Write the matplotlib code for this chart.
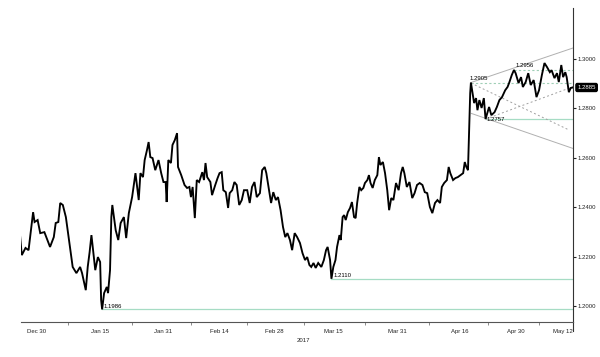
import matplotlib
matplotlib.use("Agg")
import matplotlib.pyplot as plt
import matplotlib.transforms as mtransforms
from matplotlib.lines import Line2D

plt.rcParams['font.family'] = ['Liberation Sans', 'DejaVu Sans']

# ---- data: days since 2016-12-30, GBP/USD price ----
days = [-4.29, -3.8, -2.86, -2.09, -0.94, -0.57, 0.2, 0.86, 1.91, 3.34, 4.29, 4.77, 5.43, 5.91, 6.57, 7.34,
        8.37, 9.06, 10.0, 10.94, 11.43, 12.37, 12.86, 13.34, 13.8, 14.29, 14.77, 15.43, 16.0, 16.25, 16.5,
        17.0, 17.68, 18.0, 18.5, 18.83, 19.08, 19.5, 19.93, 20.58, 21.18, 22.0, 22.58, 23.25, 24.08, 24.93,
        25.75, 26.18, 26.83, 27.25, 27.83, 28.25, 28.68, 29.25, 29.93, 30.75, 31.43, 32.0, 32.56, 32.81,
        33.23, 33.89, 34.28, 34.87, 35.44, 35.68, 36.49, 37.33, 37.97, 38.56, 38.95, 39.37, 39.93, 40.42,
        41.01, 41.82, 42.24, 42.63, 43.05, 43.86, 44.28, 45.09, 45.68, 46.17, 46.72, 47.13, 47.76, 48.34,
        48.73, 49.38, 49.93, 50.51, 51.14, 51.79, 52.35, 53.17, 53.8, 54.38, 55.0, 55.58, 56.38, 56.94,
        57.59, 58.0, 58.55, 59.2, 59.76, 60.4, 60.95, 61.6, 62.21, 62.78, 63.33, 63.97, 64.52, 65.16, 65.78,
        66.5, 67.14, 67.78, 68.33, 68.88, 69.35, 69.92, 70.47, 71.11, 71.9, 72.54, 73.09, 73.49, 74.11,
        74.45, 74.93, 75.47, 75.87, 76.48, 76.81, 77.28, 77.66, 78.06, 78.6, 79.16, 79.63, 80.17, 80.57,
        80.95, 81.51, 81.98, 82.52, 82.92, 83.53, 83.93, 84.33, 84.87, 85.41, 86.05, 86.45, 86.82, 87.46,
        88.0, 88.56, 89.03, 89.57, 90.11, 90.77, 91.44, 92.03, 92.47, 92.88, 93.5, 94.17, 94.87, 95.46,
        96.08, 96.75, 97.45, 98.04, 98.66, 99.33, 99.95, 100.62, 101.24, 101.91, 102.35, 102.94, 103.64,
        104.08, 104.49, 105.19, 105.78, 106.4, 107.07, 107.74, 108.15, 108.55, 108.96, 109.28, 109.52,
        109.7, 110.19, 110.51, 111.0, 111.35, 111.84, 112.4, 112.97, 113.4, 114.29, 114.86, 115.67,
        116.26, 116.9, 117.56, 118.37, 118.96, 119.35, 120.02, 120.58, 121.0, 121.74, 122.37, 122.83,
        123.54, 124.19, 124.82, 125.56, 126.27, 126.92, 127.63, 128.29, 128.92, 129.65, 130.09, 130.82,
        131.45, 131.91, 132.54, 133.0, 133.55, 133.9, 134.45, 134.91, 135.46]
price = [1.2295, 1.2206, 1.2235, 1.2226, 1.2380, 1.2340, 1.2348, 1.2295, 1.2299, 1.2239, 1.2279, 1.2336,
         1.2340, 1.2417, 1.2409, 1.2360, 1.2239, 1.2158, 1.2133, 1.2158, 1.2133, 1.2064, 1.2158, 1.2218,
         1.2287, 1.2214, 1.2145, 1.2198, 1.2178, 1.2024, 1.1986, 1.2052, 1.2077, 1.2052, 1.2145, 1.2360,
         1.2409, 1.2360, 1.2307, 1.2267, 1.2336, 1.2360, 1.2275, 1.2376, 1.2441, 1.2538, 1.2429, 1.2538,
         1.2522, 1.2591, 1.2631, 1.2664, 1.2603, 1.2599, 1.2550, 1.2591, 1.2538, 1.2502, 1.2502, 1.2421,
         1.2591, 1.2579, 1.2652, 1.2672, 1.2700, 1.2563, 1.2530, 1.2490, 1.2478, 1.2482, 1.2441, 1.2482,
         1.2356, 1.2510, 1.2502, 1.2542, 1.2510, 1.2579, 1.2522, 1.2502, 1.2449, 1.2490, 1.2518, 1.2538,
         1.2542, 1.2469, 1.2461, 1.2397, 1.2457, 1.2469, 1.2502, 1.2490, 1.2409, 1.2429, 1.2469, 1.2469,
         1.2417, 1.2482, 1.2502, 1.2441, 1.2457, 1.2550, 1.2563, 1.2538, 1.2482, 1.2417, 1.2461, 1.2429,
         1.2441, 1.2388, 1.2320, 1.2279, 1.2295, 1.2267, 1.2226, 1.2295, 1.2279, 1.2255, 1.2214, 1.2186,
         1.2198, 1.2166, 1.2158, 1.2174, 1.2154, 1.2174, 1.2158, 1.2186, 1.2226, 1.2239, 1.2186, 1.2110,
         1.2158, 1.2186, 1.2239, 1.2287, 1.2267, 1.2360, 1.2368, 1.2348, 1.2380, 1.2397, 1.2421, 1.2360,
         1.2356, 1.2417, 1.2482, 1.2469, 1.2478, 1.2498, 1.2510, 1.2530, 1.2498, 1.2478, 1.2510, 1.2530,
         1.2603, 1.2571, 1.2583, 1.2538, 1.2469, 1.2388, 1.2437, 1.2429, 1.2498, 1.2469, 1.2538, 1.2563,
         1.2538, 1.2482, 1.2502, 1.2437, 1.2457, 1.2490, 1.2498, 1.2490, 1.2461, 1.2457, 1.2401, 1.2376,
         1.2417, 1.2429, 1.2417, 1.2482, 1.2498, 1.2510, 1.2563, 1.2538, 1.2510, 1.2518, 1.2522, 1.2530,
         1.2538, 1.2583, 1.2563, 1.2550, 1.2725, 1.2862, 1.2905, 1.2854, 1.2822, 1.2842, 1.2793, 1.2834,
         1.2802, 1.2842, 1.2757, 1.2806, 1.2773, 1.2785, 1.2806, 1.2834, 1.2846, 1.2874, 1.2887, 1.2903,
         1.2935, 1.2956, 1.2943, 1.2903, 1.2927, 1.2887, 1.2907, 1.2943, 1.2895, 1.2915, 1.2846, 1.2874,
         1.2935, 1.2984, 1.2968, 1.2947, 1.2955, 1.2923, 1.2943, 1.2907, 1.2976, 1.2927, 1.2947, 1.2927,
         1.2866, 1.2883, 1.2885]

tick_days = [0, 16, 32, 46, 60, 75, 91, 107, 121, 133]
tick_labels = ["Dec 30", "Jan 15", "Jan 31", "Feb 14", "Feb 28", "Mar 15", "Mar 31", "Apr 16", "Apr 30", "May 12"]
y_ticks = [1.20, 1.22, 1.24, 1.26, 1.28, 1.30]
year_label = "2017"
last_price = 1.2885

# support / resistance levels: (value, start day, label)
levels_solid = [(1.1986, 16.5, "1.1986"), (1.2110, 74.45, "1.2110"), (1.2757, 113.4, "1.2757")]
levels_dotted = [(1.2905, 109.7, "1.2905"), (1.2956, 120.58, "1.2956")]
# trend lines: ((day0, price0), (day1, price1))
trend_solid = [((109.7, 1.2905), (135.5, 1.3045)), ((109.8, 1.2780), (135.5, 1.2638))]
trend_dotted = [((109.7, 1.2903), (134.6, 1.2712)), ((113.4, 1.2757), (135.5, 1.2888))]

fig = plt.figure(figsize=(6.0, 3.57), dpi=100)
ax = fig.add_axes([21/600, 1-322/357, (573-21)/600, (322-8)/357])
ax.set_xlim(-4.0, 135.5)
ax.set_ylim(1.1935, 1.3207)

green = "#a6dcc4"
for val, d0, lab in levels_solid:
    ax.plot([d0, 135.5], [val, val], color=green, lw=0.9, zorder=1)
for val, d0, lab in levels_dotted:
    ax.plot([d0, 135.5], [val, val], color="#9fcfb6", lw=0.8, ls=(0, (2, 2)), zorder=1)
for (a, b) in trend_solid:
    ax.plot([a[0], b[0]], [a[1], b[1]], color="#b0b0b0", lw=0.7, zorder=1)
for (a, b) in trend_dotted:
    ax.plot([a[0], b[0]], [a[1], b[1]], color="#a0a0a0", lw=0.7, ls=(0, (2, 2.5)), zorder=1)

ax.plot(days, price, color="black", lw=1.35, zorder=3, solid_joinstyle="miter")

fs = 4.3
ax.text(16.9, 1.1986 + 0.0003, "1.1986", fontsize=fs, ha="left", va="bottom", zorder=4)
ax.text(75.0, 1.2110 + 0.0003, "1.2110", fontsize=fs, ha="left", va="bottom", zorder=4)
ax.text(113.6, 1.2757 + 0.0008, "1.2757", fontsize=fs, ha="left", va="top", zorder=4)
ax.text(109.4, 1.2905 + 0.0008, "1.2905", fontsize=fs, ha="left", va="bottom", zorder=4)
ax.text(121.0, 1.2956 + 0.0008, "1.2956", fontsize=fs, ha="left", va="bottom", zorder=4)

for s in ["top", "left"]:
    ax.spines[s].set_visible(False)
ax.spines["right"].set_color("#333333")
ax.spines["bottom"].set_color("#555555")
ax.spines["right"].set_linewidth(0.8)
ax.spines["bottom"].set_linewidth(0.8)

ax.yaxis.tick_right()
ax.set_yticks(y_ticks)
ax.set_yticklabels([f"{v:.4f}" for v in y_ticks])
ax.tick_params(axis="y", length=2, width=0.8, pad=1.5, labelsize=fs, colors="#222222")

ax.set_xticks(tick_days)
ax.set_xticklabels(tick_labels)
ax.tick_params(axis="x", which="major", length=0, pad=5, labelsize=fs, colors="#222222")
mids = [(tick_days[i] + tick_days[i+1]) / 2 for i in range(len(tick_days) - 1)]
ax.set_xticks(mids, minor=True)
ax.tick_params(axis="x", which="minor", length=2, width=0.6, color="#777777")

# last price tag
trans = mtransforms.blended_transform_factory(ax.transAxes, ax.transData)
ax.text(1.008, last_price, f"{last_price:.4f}", transform=trans, fontsize=fs, color="white",
        ha="left", va="center", bbox=dict(boxstyle="round,pad=0.25", fc="black", ec="black"))

# right spine extension
ax.add_line(Line2D([1, 1], [0, -0.03], transform=ax.transAxes, color="#333333", lw=0.8, clip_on=False))

fig.text(303/600, 1-340/357, year_label, fontsize=fs, ha="center", va="center", color="#222222")

fig.savefig("out.png", dpi=100)
